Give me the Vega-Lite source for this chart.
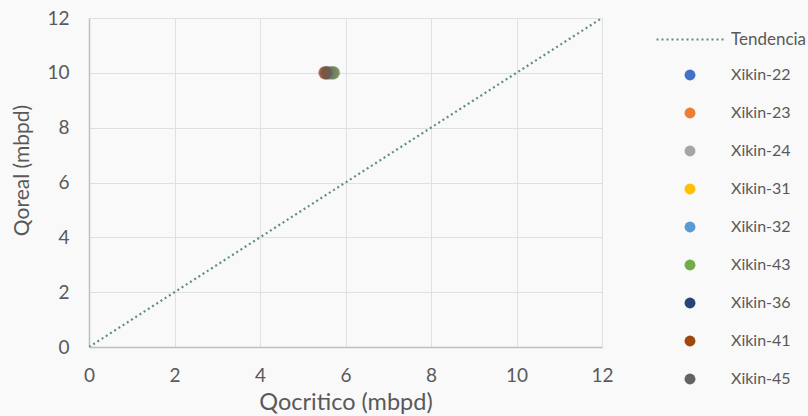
{
  "$schema": "https://vega.github.io/schema/vega-lite/v6.json",
  "width": 513,
  "height": 329,
  "autosize": "none",
  "padding": {"left": 89, "top": 18, "right": 206, "bottom": 69},
  "background": "#f9f9f9",
  "config": {
    "font": "Lato",
    "view": {"stroke": null},
    "axis": {"labelFont": "Lato", "titleFont": "Lato"},
    "legend": {"labelFont": "Lato"}
  },
  "datasets": {
    "trend": [
      {"x": 0, "y": 0, "serie": "Tendencia"},
      {"x": 12, "y": 12, "serie": "Tendencia"}
    ],
    "pozos": [
      {"pozo": "Xikin-22", "qc": 5.58, "qr": 10},
      {"pozo": "Xikin-23", "qc": 5.62, "qr": 10},
      {"pozo": "Xikin-24", "qc": 5.64, "qr": 10},
      {"pozo": "Xikin-31", "qc": 5.66, "qr": 10},
      {"pozo": "Xikin-32", "qc": 5.6, "qr": 10},
      {"pozo": "Xikin-43", "qc": 5.72, "qr": 10},
      {"pozo": "Xikin-36", "qc": 5.54, "qr": 10},
      {"pozo": "Xikin-41", "qc": 5.52, "qr": 10},
      {"pozo": "Xikin-45", "qc": 5.7, "qr": 10}
    ]
  },
  "layer": [
    {
      "data": {"name": "trend"},
      "mark": {"type": "line", "strokeDash": [2, 3], "strokeWidth": 2.2, "clip": true},
      "encoding": {
        "x": {
          "field": "x", "type": "quantitative",
          "scale": {"domain": [0, 12], "nice": false},
          "axis": {
            "values": [0, 2, 4, 6, 8, 10, 12],
            "title": "Qocritico (mbpd)",
            "titleFontSize": 23.5, "titleFontWeight": "normal", "titleColor": "#595959",
            "titlePadding": 5,
            "labelFontSize": 19, "labelColor": "#595959", "labelPadding": 19,
            "labelFlush": false,
            "ticks": false,
            "domainColor": "#bfbfbf", "domainWidth": 1.5,
            "grid": true, "gridColor": "#e0e0e0", "gridWidth": 1
          }
        },
        "y": {
          "field": "y", "type": "quantitative",
          "scale": {"domain": [0, 12], "nice": false},
          "axis": {
            "values": [0, 2, 4, 6, 8, 10, 12],
            "title": "Qoreal (mbpd)",
            "titleFontSize": 21, "titleFontWeight": "normal", "titleColor": "#595959",
            "titlePadding": 14,
            "titleY": 152,
            "labelFontSize": 19, "labelColor": "#595959", "labelPadding": 20,
            "labelFlush": false,
            "ticks": false,
            "domainColor": "#bfbfbf", "domainWidth": 1.5,
            "grid": true, "gridColor": "#e0e0e0", "gridWidth": 1
          }
        },
        "stroke": {
          "field": "serie", "type": "nominal",
          "scale": {"domain": ["Tendencia"], "range": ["#5f8f7a"]},
          "legend": {
            "title": null,
            "orient": "none",
            "legendX": 566,
            "legendY": -14,
            "symbolType": "stroke",
            "symbolSize": 4624,
            "symbolDash": [2, 3],
            "symbolStrokeWidth": 2.2,
            "labelFontSize": 17,
            "labelColor": "#595959",
            "labelOffset": 5
          }
        }
      }
    },
    {
      "data": {"name": "pozos"},
      "mark": {"type": "circle", "size": 180, "opacity": 0.6},
      "encoding": {
        "x": {"field": "qc", "type": "quantitative"},
        "y": {"field": "qr", "type": "quantitative"},
        "color": {
          "field": "pozo", "type": "nominal",
          "scale": {
            "domain": ["Xikin-22", "Xikin-23", "Xikin-24", "Xikin-31", "Xikin-32", "Xikin-43", "Xikin-36", "Xikin-41", "Xikin-45"],
            "range": ["#4472c4", "#ed7d31", "#a5a5a5", "#ffc000", "#5b9bd5", "#70ad47", "#264478", "#9e480e", "#636363"]
          },
          "legend": {
            "title": null,
            "orient": "none",
            "legendX": 593,
            "legendY": 49,
            "symbolType": "circle",
            "symbolSize": 120,
            "symbolOpacity": 1,
            "labelFontSize": 16,
            "labelColor": "#595959",
            "labelOffset": 33,
            "rowPadding": 22
          }
        }
      }
    }
  ]
}
